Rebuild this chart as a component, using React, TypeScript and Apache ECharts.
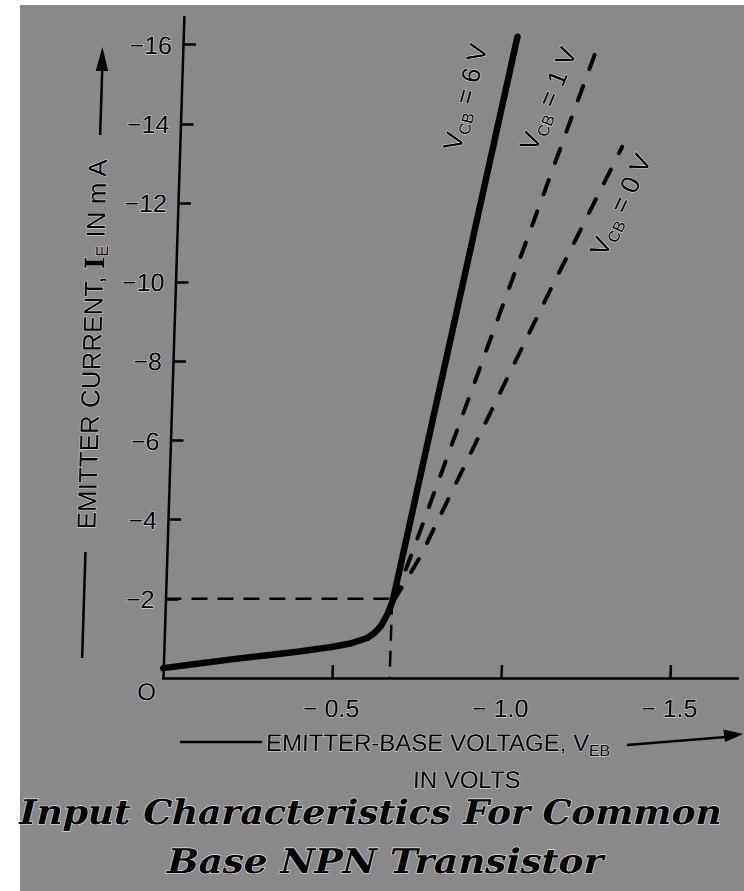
import React, { useEffect, useRef } from "react";
import * as echarts from "echarts";

// ---------------- data (V_EB in volts, I_E in mA) ----------------
const xTickValues = [-0.5, -1.0, -1.5];
const yTickValues = [-2, -4, -6, -8, -10, -12, -14, -16];

// V_CB = 6 V (solid curve)
const vcb6Volts = [0, -0.1, -0.2, -0.3, -0.4, -0.5, -0.55, -0.6, -0.62, -0.64, -0.658, -0.672, -0.988];
const vcb6Current = [-0.25, -0.36, -0.47, -0.57, -0.67, -0.79, -0.87, -1.01, -1.13, -1.32, -1.62, -1.95, -16.2];

// V_CB = 1 V (dashed)
const vcb1Volts = [-0.675, -0.728, -1.22];
const vcb1Current = [-1.95, -3.24, -15.8];

// V_CB = 0 V (dashed)
const vcb0Volts = [-0.675, -0.749, -1.095, -1.308];
const vcb0Current = [-1.95, -3.06, -9.55, -13.42];

// knee reference (dashed guide lines)
const kneeVolts = -0.67;
const kneeCurrent = -2;

// curve labels
const curveLabelVcb = ["6", "1", "0"];
const curveLabelVolts = [-0.839, -1.085, -1.308];
const curveLabelCurrent = [-14.68, -14.63, -11.95];
const curveLabelAngle = [77, 69, 66];

const titleLine1 = "Input Characteristics For Common";
const titleLine2 = "Base NPN Transistor";

// -----------------------------------------------------------------
const SANS = "'Liberation Sans', Arial, Helvetica, sans-serif";
const SERIF = "'DejaVu Serif', 'Century Schoolbook', serif";

const zip = (a: number[], b: number[]) => a.map((v, i) => [v, b[i]]);
const minusLabel = (v: number, space: boolean, digits: number) =>
  "\u2212" + (space ? " " : "") + Math.abs(v).toFixed(digits);

export default function App() {
  const ref = useRef<HTMLDivElement>(null);

  useEffect(() => {
    if (!ref.current) return;
    const chart = echarts.init(ref.current, null, { renderer: "svg" });

    const labelFont = {
      color: "#000",
      fontFamily: SANS,
      fontSize: 25,
      textBorderColor: "rgba(255,255,255,0.85)",
      textBorderWidth: 1,
    };

    const option: any = {
      animation: false,
      backgroundColor: "transparent",
      grid: { left: 163, right: 6, top: 17, bottom: 213, containLabel: false, outerBoundsMode: "none" },
      xAxis: {
        type: "value",
        min: -1.7,
        max: 0,
        inverse: true,
        axisLine: { show: true, onZero: false, lineStyle: { color: "#000", width: 2.5 } },
        axisTick: { show: true, inside: true, length: 13, customValues: xTickValues, lineStyle: { color: "#000", width: 2.5 } },
        axisLabel: { show: true, customValues: xTickValues, margin: 17, formatter: (v: number) => minusLabel(v, true, 1), ...labelFont },
        splitLine: { show: false },
      },
      yAxis: {
        type: "value",
        min: -16.7,
        max: 0,
        inverse: true,
        axisLine: { show: true, onZero: false, lineStyle: { color: "#000", width: 2.5 } },
        axisTick: { show: true, inside: true, length: 13, customValues: yTickValues, lineStyle: { color: "#000", width: 2.5 } },
        axisLabel: { show: true, customValues: yTickValues, margin: 11, formatter: (v: number) => minusLabel(v, false, 0), ...labelFont },
        splitLine: { show: false },
      },
      series: [
        {
          name: "knee-h",
          type: "line",
          silent: true,
          showSymbol: false,
          data: [[0, kneeCurrent], [kneeVolts + 0.005, kneeCurrent]],
          lineStyle: { color: "#000", width: 2.5, type: [16, 10] },
          emphasis: { disabled: true },
        },
        {
          name: "knee-v",
          type: "line",
          silent: true,
          showSymbol: false,
          data: [[kneeVolts, kneeCurrent], [kneeVolts, 0]],
          lineStyle: { color: "#000", width: 2.5, type: [16, 10] },
          emphasis: { disabled: true },
        },
        {
          name: "VCB = 0 V",
          type: "line",
          silent: true,
          showSymbol: false,
          data: zip(vcb0Volts, vcb0Current),
          lineStyle: { color: "#000", width: 4, type: [15, 18], cap: "round" },
          emphasis: { disabled: true },
        },
        {
          name: "VCB = 1 V",
          type: "line",
          silent: true,
          showSymbol: false,
          data: zip(vcb1Volts, vcb1Current),
          lineStyle: { color: "#000", width: 4, type: [15, 18], cap: "round" },
          emphasis: { disabled: true },
        },
        {
          name: "VCB = 6 V",
          type: "line",
          silent: true,
          showSymbol: false,
          data: zip(vcb6Volts, vcb6Current),
          lineStyle: { color: "#000", width: 6.5, cap: "round", join: "round" },
          emphasis: { disabled: true },
        },
      ],
    };

    chart.setOption(option);

    // text measuring for title fitting
    const ctx = document.createElement("canvas").getContext("2d")!;
    const fit = (text: string, font: string, target: number) => {
      ctx.font = font;
      const w = ctx.measureText(text).width || target;
      return target / w;
    };
    const tFont = 34;
    const tFontCss = `italic bold ${tFont}px ${SERIF}`;
    const s1 = fit(titleLine1, tFontCss, 702);
    const s2 = fit(titleLine2, tFontCss, 436);

    const curveLabels = curveLabelVcb.map((vcb, i) => {
      const p = chart.convertToPixel({ gridIndex: 0 }, [curveLabelVolts[i], curveLabelCurrent[i]]) as number[];
      return {
        type: "text",
        x: p[0],
        y: p[1],
        rotation: (curveLabelAngle[i] * Math.PI) / 180,
        silent: true,
        style: {
          text: `{v|V}{s|CB}{v| = ${vcb} V}`,
          align: "center",
          verticalAlign: "middle",
          fill: "#000",
          stroke: "rgba(255,255,255,0.8)",
          lineWidth: 1,
          fontFamily: SANS,
          fontSize: 26,
          rich: {
            v: { fontFamily: SANS, fontSize: 26, lineHeight: 32, verticalAlign: "middle" },
            s: { fontFamily: SANS, fontSize: 16, lineHeight: 19, verticalAlign: "bottom" },
          },
        },
      };
    });

    const black = { stroke: "#000", lineWidth: 2.5 };
    const graphic: any[] = [
      ...curveLabels,
      // origin label
      {
        type: "text", x: 147, y: 692, silent: true,
        style: { text: "O", fontFamily: SANS, fontSize: 24, fill: "#000", align: "center", verticalAlign: "middle", stroke: "rgba(255,255,255,0.8)", lineWidth: 1 },
      },
      // y-axis title
      { type: "line", silent: true, shape: { x1: 81.5, y1: 552, x2: 81.5, y2: 658 }, style: black },
      {
        type: "text", x: 81.5, y: 344, rotation: Math.PI / 2, silent: true,
        style: {
          text: "{a|EMITTER CURRENT, }{b|I}{s|E}{a| IN m A}",
          align: "center", verticalAlign: "middle", fill: "#000",
          stroke: "rgba(255,255,255,0.8)", lineWidth: 1,
          fontFamily: SANS, fontSize: 26,
          rich: {
            a: { fontFamily: SANS, fontSize: 26, lineHeight: 32, verticalAlign: "middle" },
            b: { fontFamily: SERIF, fontWeight: "bold", fontSize: 27, lineHeight: 32, verticalAlign: "middle" },
            s: { fontFamily: SANS, fontSize: 17, lineHeight: 20, verticalAlign: "bottom" },
          },
        },
      },
      { type: "line", silent: true, shape: { x1: 83, y1: 68, x2: 83, y2: 135 }, style: black },
      { type: "polygon", silent: true, shape: { points: [[82.5, 47], [76.5, 71], [89, 71]] }, style: { fill: "#000" } },
      // x-axis title
      { type: "line", silent: true, shape: { x1: 182, y1: 742, x2: 264, y2: 742 }, style: black },
      {
        type: "text", x: 268, y: 743, silent: true,
        style: {
          text: "{a|EMITTER-BASE VOLTAGE, V}{s|EB}",
          align: "left", verticalAlign: "middle", fill: "#000",
          stroke: "rgba(255,255,255,0.8)", lineWidth: 1,
          fontFamily: SANS, fontSize: 24,
          rich: {
            a: { fontFamily: SANS, fontSize: 24, lineHeight: 30, verticalAlign: "middle" },
            s: { fontFamily: SANS, fontSize: 16, lineHeight: 18, verticalAlign: "bottom" },
          },
        },
      },
      { type: "line", silent: true, shape: { x1: 629, y1: 745, x2: 728, y2: 737 }, style: black },
      { type: "polygon", silent: true, shape: { points: [[745, 734], [725, 729.5], [727, 742]] }, style: { fill: "#000" } },
      {
        type: "text", x: 470, y: 780, silent: true,
        style: { text: "IN VOLTS", fontFamily: SANS, fontSize: 24, fill: "#000", align: "center", verticalAlign: "middle", stroke: "rgba(255,255,255,0.8)", lineWidth: 1 },
      },
      // main title
      {
        type: "text", x: 375, y: 812, scaleX: s1, silent: true,
        style: {
          text: titleLine1, fontFamily: SERIF, fontStyle: "italic", fontWeight: "bold", fontSize: tFont,
          fill: "#000", align: "center", verticalAlign: "middle", stroke: "rgba(255,255,255,0.8)", lineWidth: 1.2,
        },
      },
      {
        type: "text", x: 391, y: 861, scaleX: s2, silent: true,
        style: {
          text: titleLine2, fontFamily: SERIF, fontStyle: "italic", fontWeight: "bold", fontSize: tFont,
          fill: "#000", align: "center", verticalAlign: "middle", stroke: "rgba(255,255,255,0.8)", lineWidth: 1.2,
        },
      },
    ];

    chart.setOption({ graphic });

    return () => chart.dispose();
  }, []);

  return (
    <div style={{ position: "fixed", left: 0, top: 0, width: 744, height: 891, background: "#fff", overflow: "hidden" }}>
      <div style={{ position: "absolute", left: 20, top: 5, right: 0, bottom: 0, background: "#898989" }} />
      <div
        ref={ref}
        style={{
          position: "absolute",
          left: 0,
          top: 0,
          width: 744,
          height: 891,
          transform: "skewX(-1.81deg)",
          transformOrigin: "0px 678px",
        }}
      />
    </div>
  );
}
